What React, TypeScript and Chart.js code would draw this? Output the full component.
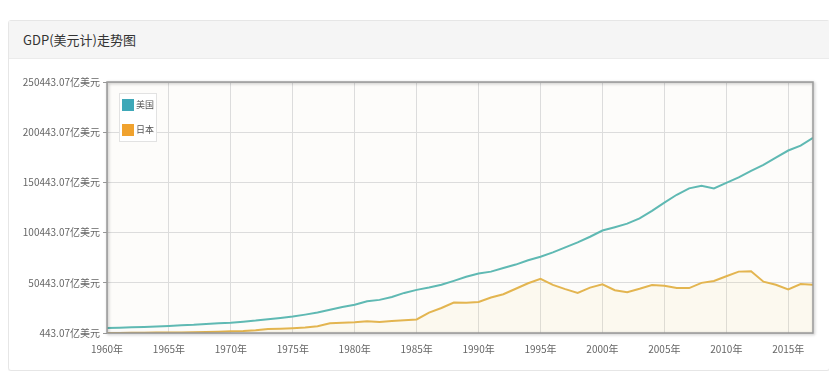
import React, { useEffect, useRef } from "react";
import { Chart, registerables } from "chart.js";
Chart.register(...registerables);

const TITLE = "GDP(美元计)走势图";
const SERIES_NAMES = ["美国", "日本"];
const YEARS = [
  1960, 1961, 1962, 1963, 1964, 1965, 1966, 1967, 1968, 1969,
  1970, 1971, 1972, 1973, 1974, 1975, 1976, 1977, 1978, 1979,
  1980, 1981, 1982, 1983, 1984, 1985, 1986, 1987, 1988, 1989,
  1990, 1991, 1992, 1993, 1994, 1995, 1996, 1997, 1998, 1999,
  2000, 2001, 2002, 2003, 2004, 2005, 2006, 2007, 2008, 2009,
  2010, 2011, 2012, 2013, 2014, 2015, 2016, 2017,
];
const US_GDP = [
  5433, 5633, 6051, 6386, 6858, 7437, 8150, 8617, 9425, 10199,
  10733, 11649, 12791, 14254, 15452, 16849, 18734, 20818, 23516, 26273,
  28573, 32070, 33438, 36340, 40376, 43390, 45796, 48552, 52364, 56416,
  59631, 61581, 65203, 68586, 72872, 76397, 80731, 85776, 90628, 96312,
  102510, 105818, 109364, 114582, 122137, 130366, 138146, 144519, 147128, 144489,
  149921, 155426, 161970, 167849, 175217, 182193, 187072, 194854,
];
const JP_GDP = [
  443.07, 535.09, 607.23, 694.98, 817.49, 909.5, 1056.28, 1237.82, 1466.01, 1722.04,
  2126.09, 2401.52, 3180.31, 4320.83, 4796.26, 5215.42, 5861.62, 7214.12, 10136.12, 10550.12,
  11053.86, 12189.89, 11345.18, 12433.2, 13183.81, 13988.93, 20789.53, 25328.08, 30716.83, 30549.14,
  31328.18, 35844.2, 39088.09, 44541.44, 49987.98, 54491.16, 48337.13, 44147.33, 40325.1, 45620.79,
  48875.2, 43035.44, 41151.16, 44456.58, 48151.49, 47554.11, 45303.77, 45152.65, 50379.08, 52313.83,
  57000.98, 61574.6, 62032.13, 51557.17, 48504.14, 43894.76, 49266.67, 48599.51,
];
const Y_TICKS = [443.07, 50443.07, 100443.07, 150443.07, 200443.07, 250443.07];
const X_TICKS = [1960, 1965, 1970, 1975, 1980, 1985, 1990, 1995, 2000, 2005, 2010, 2015];
const LEGEND_COLORS = ["#3ea8b8", "#f0a22e"];

const FONT = '"Noto Sans CJK SC", "Noto Sans", sans-serif';

const bgPlugin = {
  id: "plotBg",
  beforeDraw(chart: any) {
    const { ctx, chartArea: a } = chart;
    ctx.save();
    ctx.fillStyle = "#fdfcfa";
    ctx.fillRect(a.left, a.top, a.right - a.left, a.bottom - a.top);
    ctx.restore();
  },
  afterDraw(chart: any) {
    const { ctx, chartArea: a } = chart;
    ctx.save();
    ctx.shadowColor = "rgba(0,0,0,0.3)";
    ctx.shadowBlur = 3;
    ctx.shadowOffsetX = 1;
    ctx.shadowOffsetY = 1;
    ctx.strokeStyle = "#9a9a9a";
    ctx.lineWidth = 1.5;
    ctx.strokeRect(a.left, a.top, a.right - a.left, a.bottom - a.top);
    ctx.restore();

    const x = a.left + 12;
    const y = a.top + 11;
    ctx.save();
    ctx.fillStyle = "rgba(255,255,255,0.92)";
    ctx.fillRect(x, y, 37, 48);
    ctx.strokeStyle = "#e2e2e2";
    ctx.lineWidth = 1;
    ctx.strokeRect(x + 0.5, y + 0.5, 37, 48);
    ctx.font = `9px ${FONT}`;
    ctx.textBaseline = "middle";
    chart.data.datasets.forEach((ds: any, i: number) => {
      ctx.fillStyle = LEGEND_COLORS[i];
      ctx.fillRect(x + 3, y + 6 + i * 25, 12, 12);
      ctx.fillStyle = "#555";
      ctx.fillText(ds.label, x + 17, y + 12 + i * 25);
    });
    ctx.restore();
  },
};

function GdpChart() {
  const ref = useRef<HTMLCanvasElement>(null);
  useEffect(() => {
    if (!ref.current) return;
    const chart = new Chart(ref.current, {
      type: "line",
      data: {
        labels: YEARS,
        datasets: [
          {
            label: SERIES_NAMES[0],
            data: YEARS.map((yr, i) => ({ x: yr, y: US_GDP[i] })),
            borderColor: "#5fb9b3",
            backgroundColor: "rgba(120,210,210,0.04)",
            borderWidth: 2,
            pointRadius: 0,
            tension: 0,
            fill: false,
          },
          {
            label: SERIES_NAMES[1],
            data: YEARS.map((yr, i) => ({ x: yr, y: JP_GDP[i] })),
            borderColor: "#e3b550",
            backgroundColor: "rgba(250,225,150,0.1)",
            borderWidth: 2,
            pointRadius: 0,
            tension: 0,
            fill: "origin",
          },
        ],
      },
      options: {
        animation: false,
        responsive: false,
        maintainAspectRatio: false,
        layout: { padding: { top: 23, right: 16, left: 0, bottom: 0 } },
        plugins: { legend: { display: false }, tooltip: { enabled: false } },
        scales: {
          x: {
            type: "linear",
            min: 1960,
            max: 2017,
            afterBuildTicks: (s: any) => {
              s.ticks = X_TICKS.map((v) => ({ value: v }));
            },
            afterFit: (s: any) => {
              s.height = 37;
            },
            grid: { color: "#dcdcdc", drawTicks: false, lineWidth: 1 },
            border: { display: false },
            ticks: {
              padding: 10,
              maxRotation: 0,
              autoSkip: false,
              color: "#666",
              font: { family: FONT, size: 10 },
              callback: (v: any) => `${v}年`,
            },
          },
          y: {
            type: "linear",
            min: 443.07,
            max: 250443.07,
            afterBuildTicks: (s: any) => {
              s.ticks = Y_TICKS.map((v) => ({ value: v }));
            },
            afterFit: (s: any) => {
              s.width = 98;
            },
            grid: { color: "#dcdcdc", tickLength: 4, tickColor: "#999", lineWidth: 1 },
            border: { display: false },
            ticks: {
              padding: 3,
              color: "#666",
              font: { family: FONT, size: 10 },
              callback: (v: any) => `${Number(v).toFixed(2)}亿美元`,
            },
          },
        },
      },
      plugins: [bgPlugin],
    } as any);
    return () => chart.destroy();
  }, []);
  return <canvas ref={ref} width={820} height={311} style={{ display: "block" }} />;
}

export default function App() {
  return (
    <div style={{ paddingTop: 12, fontFamily: FONT }}>
      <div style={{ width: 820, border: "1px solid #e6e6e6", borderRadius: 3, background: "#fff", boxShadow: "0 1px 2px rgba(0,0,0,0.05)" }}>
        <div
          style={{
            height: 37,
            background: "#f5f5f5",
            borderBottom: "1px solid #ebebeb",
            display: "flex",
            alignItems: "center",
            paddingLeft: 14,
            fontSize: 13,
            color: "#333",
          }}
        >
          {TITLE}
        </div>
        <GdpChart />
      </div>
    </div>
  );
}
